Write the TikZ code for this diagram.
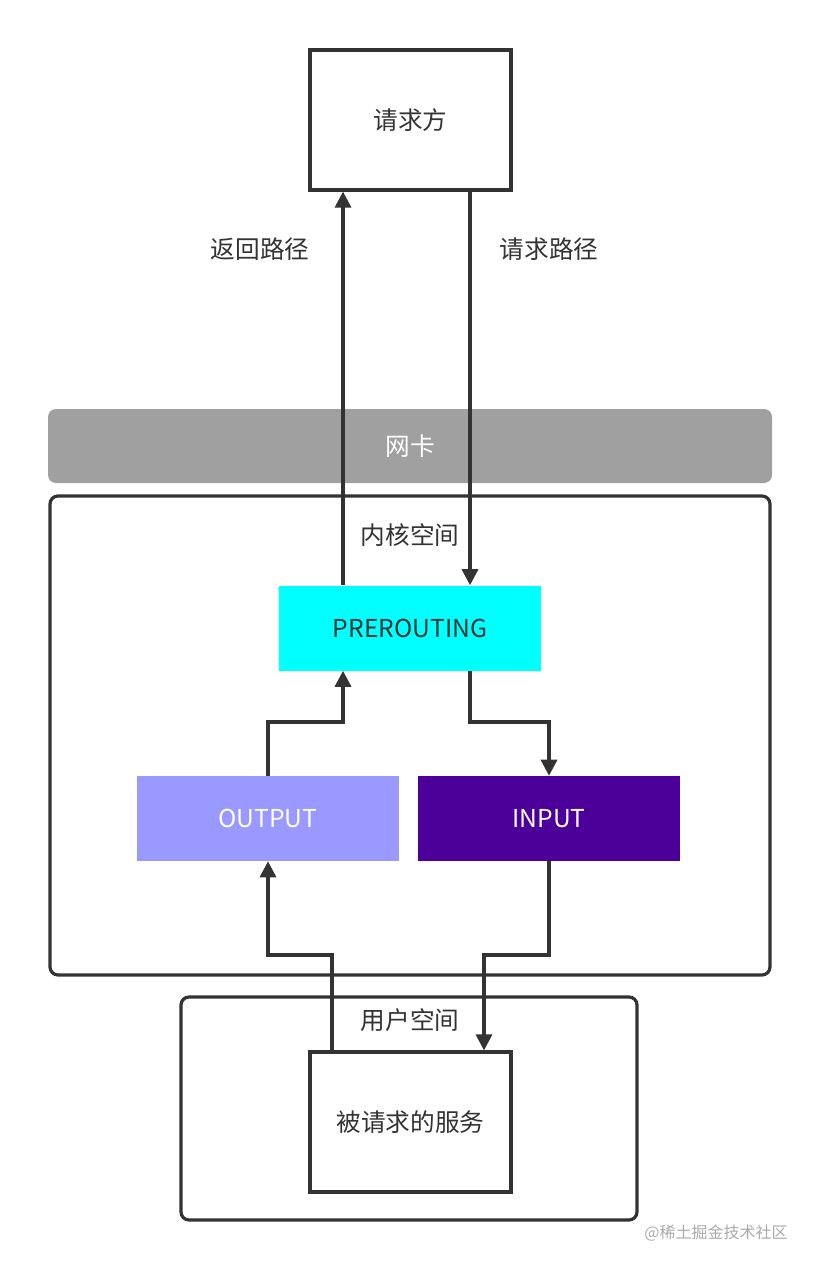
\documentclass[tikz,border=0pt]{standalone}
\usepackage{fontspec}
\setmainfont{Noto Sans CJK SC}
\usetikzlibrary{arrows.meta,positioning}
\definecolor{line}{HTML}{333333}
\definecolor{precol}{RGB}{0,255,255}
\tikzset{
  box/.style={draw=line,line width=2.4pt,inner sep=0pt},
  chain/.style={inner sep=0pt,minimum width=262*0.75pt,minimum height=85*0.75pt},
  link/.style={draw=line,line width=2.4pt,-{Triangle[length=12pt,width=12pt]}},
  lbl/.style={text=line,font=\fontsize{18.5}{22}\selectfont}
}
\begin{document}
\begin{tikzpicture}[x=0.75pt,y=-0.75pt]
\useasboundingbox (0,0) rectangle (820,1270);
%outer frames
\node[box,fill=white,rounded corners=6pt,minimum width=720*0.75pt,minimum height=479*0.75pt] (kernel) at (410,735.5) {};
\node[box,fill=white,rounded corners=6pt,minimum width=456*0.75pt,minimum height=223*0.75pt] (user) at (409,1108.5) {};
\node[fill={rgb,255:red,160;green,160;blue,160},rounded corners=6pt,minimum width=724*0.75pt,minimum height=74*0.75pt,text=white,font=\fontsize{18.5}{22}\selectfont] (nic) at (410,446) {网卡};
\node[lbl] (klbl) at (410,535) {内核空间};
\node[lbl] (ulbl) at (410,1020) {用户空间};
%endpoints
\node[box,lbl,minimum width=201*0.75pt,minimum height=140*0.75pt] (client) at (410.5,120) {请求方};
\node[box,lbl,minimum width=201*0.75pt,minimum height=140*0.75pt] (service) at (410.5,1122) {被请求的服务};
%chains
\node[chain,lbl,fill=precol] (pre) at (410,628) {PREROUTING};
\node[chain,lbl,fill={rgb,255:red,153;green,153;blue,255},text=white] (out) at (268,818.5) {OUTPUT};
\node[chain,lbl,fill={rgb,255:red,76;green,0;blue,153},text=white] (in) at (549,818.5) {INPUT};
\node[lbl] (back) at (260,249) {返回路径};
\node[lbl] (fwd) at (549,249) {请求路径};
\node[text={rgb,255:red,170;green,170;blue,170},font=\fontsize{12}{14}\selectfont] (mark) at (716,1233) {@稀土掘金技术社区};
%paths
\coordinate (xb) at (343,0);
\coordinate (xf) at (470,0);
\coordinate (xs) at (332,0);
\coordinate (xt) at (484,0);
\draw[link] (pre.north -| xb) -- (client.south -| xb);
\draw[link] (client.south -| xf) -- (pre.north -| xf);
\draw[link] (pre.south -| xf) |- (549,722) -- (in.north);
\draw[link] (out.north) |- (343,722) -- (pre.south -| xb);
\draw[link] (in.south) |- (484,955) -- (service.north -| xt);
\draw[link] (service.north -| xs) |- (268,955) -- (out.south);
\end{tikzpicture}
\end{document}
